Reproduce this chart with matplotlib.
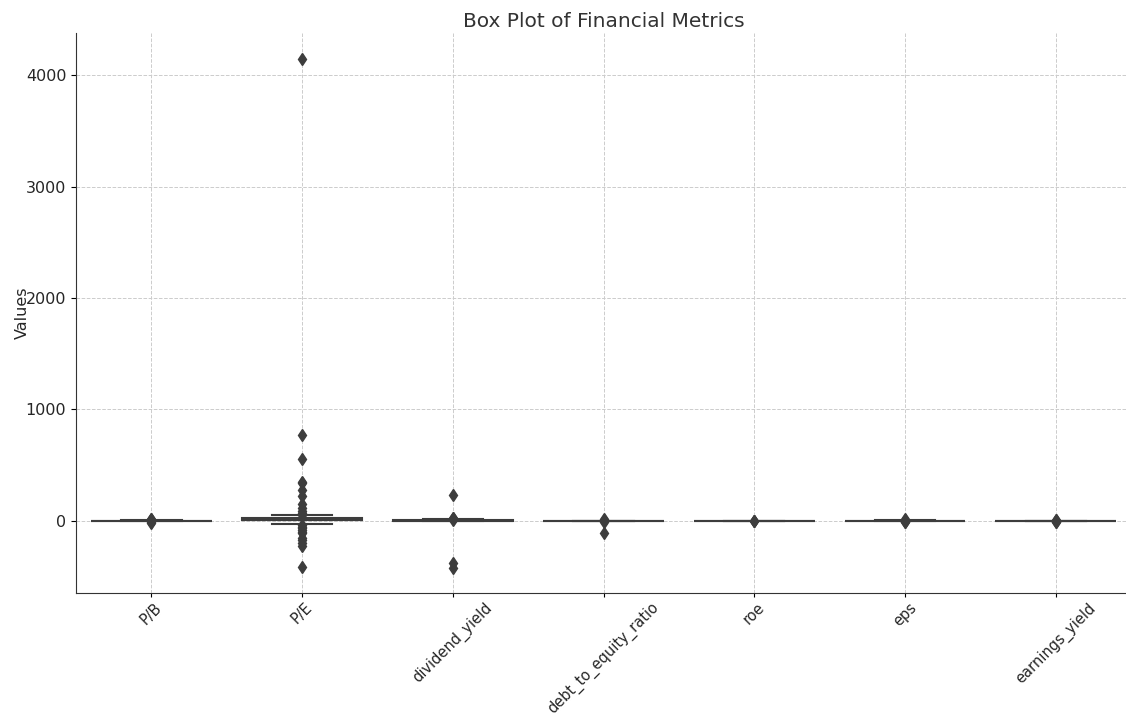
import numpy as np
import matplotlib.pyplot as plt

metrics = ['P/B', 'P/E', 'dividend_yield', 'debt_to_equity_ratio', 'roe', 'eps', 'earnings_yield']

# box statistics
q1 = [0.8, 6, 0, 0.2, 0.05, 0.5, 0.02]
med = [1.5, 13, 2, 0.6, 0.1, 1.5, 0.05]
q3 = [3, 25, 5, 1.5, 0.2, 4, 0.1]
whislo = [-1, -26, -3, -1, -0.2, -4, -0.1]
whishi = [7, 51, 15, 3.5, 0.5, 9, 0.2]

fliers = [
    [-15, -8, 10, 18, 22],
    [4145, 771, 553, 353, 340, 278, 224, 152, 113, 88, 68, 58,
     -40, -51, -65, -81, -95, -110, -150, -170, -200, -224, -410],
    [233, 24, 30, 12, -380, -424],
    [-108, 12, 18, -5],
    [2, -3, 4],
    [-12, -6, 10, 14],
    [-10, -6, 5, 8],
]

stats = []
for i, name in enumerate(metrics):
    stats.append(dict(label=name, q1=q1[i], med=med[i], q3=q3[i],
                      whislo=whislo[i], whishi=whishi[i], fliers=fliers[i]))

fig = plt.figure(figsize=(11.26, 7.15), dpi=100)
ax = fig.add_axes([76 / 1126, 1 - 593 / 715, (1131 - 76) / 1126, (593 - 33) / 715])

dark = '#3d3d3d'
ax.bxp(stats, positions=np.arange(len(metrics)), widths=0.8, patch_artist=True,
       boxprops=dict(facecolor='#5a5a5a', edgecolor=dark, linewidth=1.5),
       medianprops=dict(color=dark, linewidth=1.5),
       whiskerprops=dict(color=dark, linewidth=1.5),
       capprops=dict(color=dark, linewidth=1.5),
       capwidths=0.4,
       flierprops=dict(marker='d', markerfacecolor=dark, markeredgecolor=dark,
                       markersize=6))

ax.set_xlim(-0.5, len(metrics) - 0.5)
ax.set_ylim(-646, 4377)
ax.set_yticks([0, 1000, 2000, 3000, 4000])
ax.set_xticks(np.arange(len(metrics)))
ax.set_xticklabels(metrics, rotation=45, fontsize=10.5, color='#262626')
ax.tick_params(axis='x', pad=2, length=3)
ax.tick_params(axis='y', labelsize=11.5, labelcolor='#262626')
ax.grid(True, linestyle='--', color='#cccccc', linewidth=0.7)
ax.set_axisbelow(True)
for s in ['top', 'right']:
    ax.spines[s].set_visible(False)
for s in ['left', 'bottom']:
    ax.spines[s].set_color('#333333')

ax.set_title('Box Plot of Financial Metrics', fontsize=14.5, color='#333333', pad=4)
ax.set_ylabel('Values', fontsize=11.5, color='#262626', labelpad=-3)

fig.savefig('out.png', dpi=100)
